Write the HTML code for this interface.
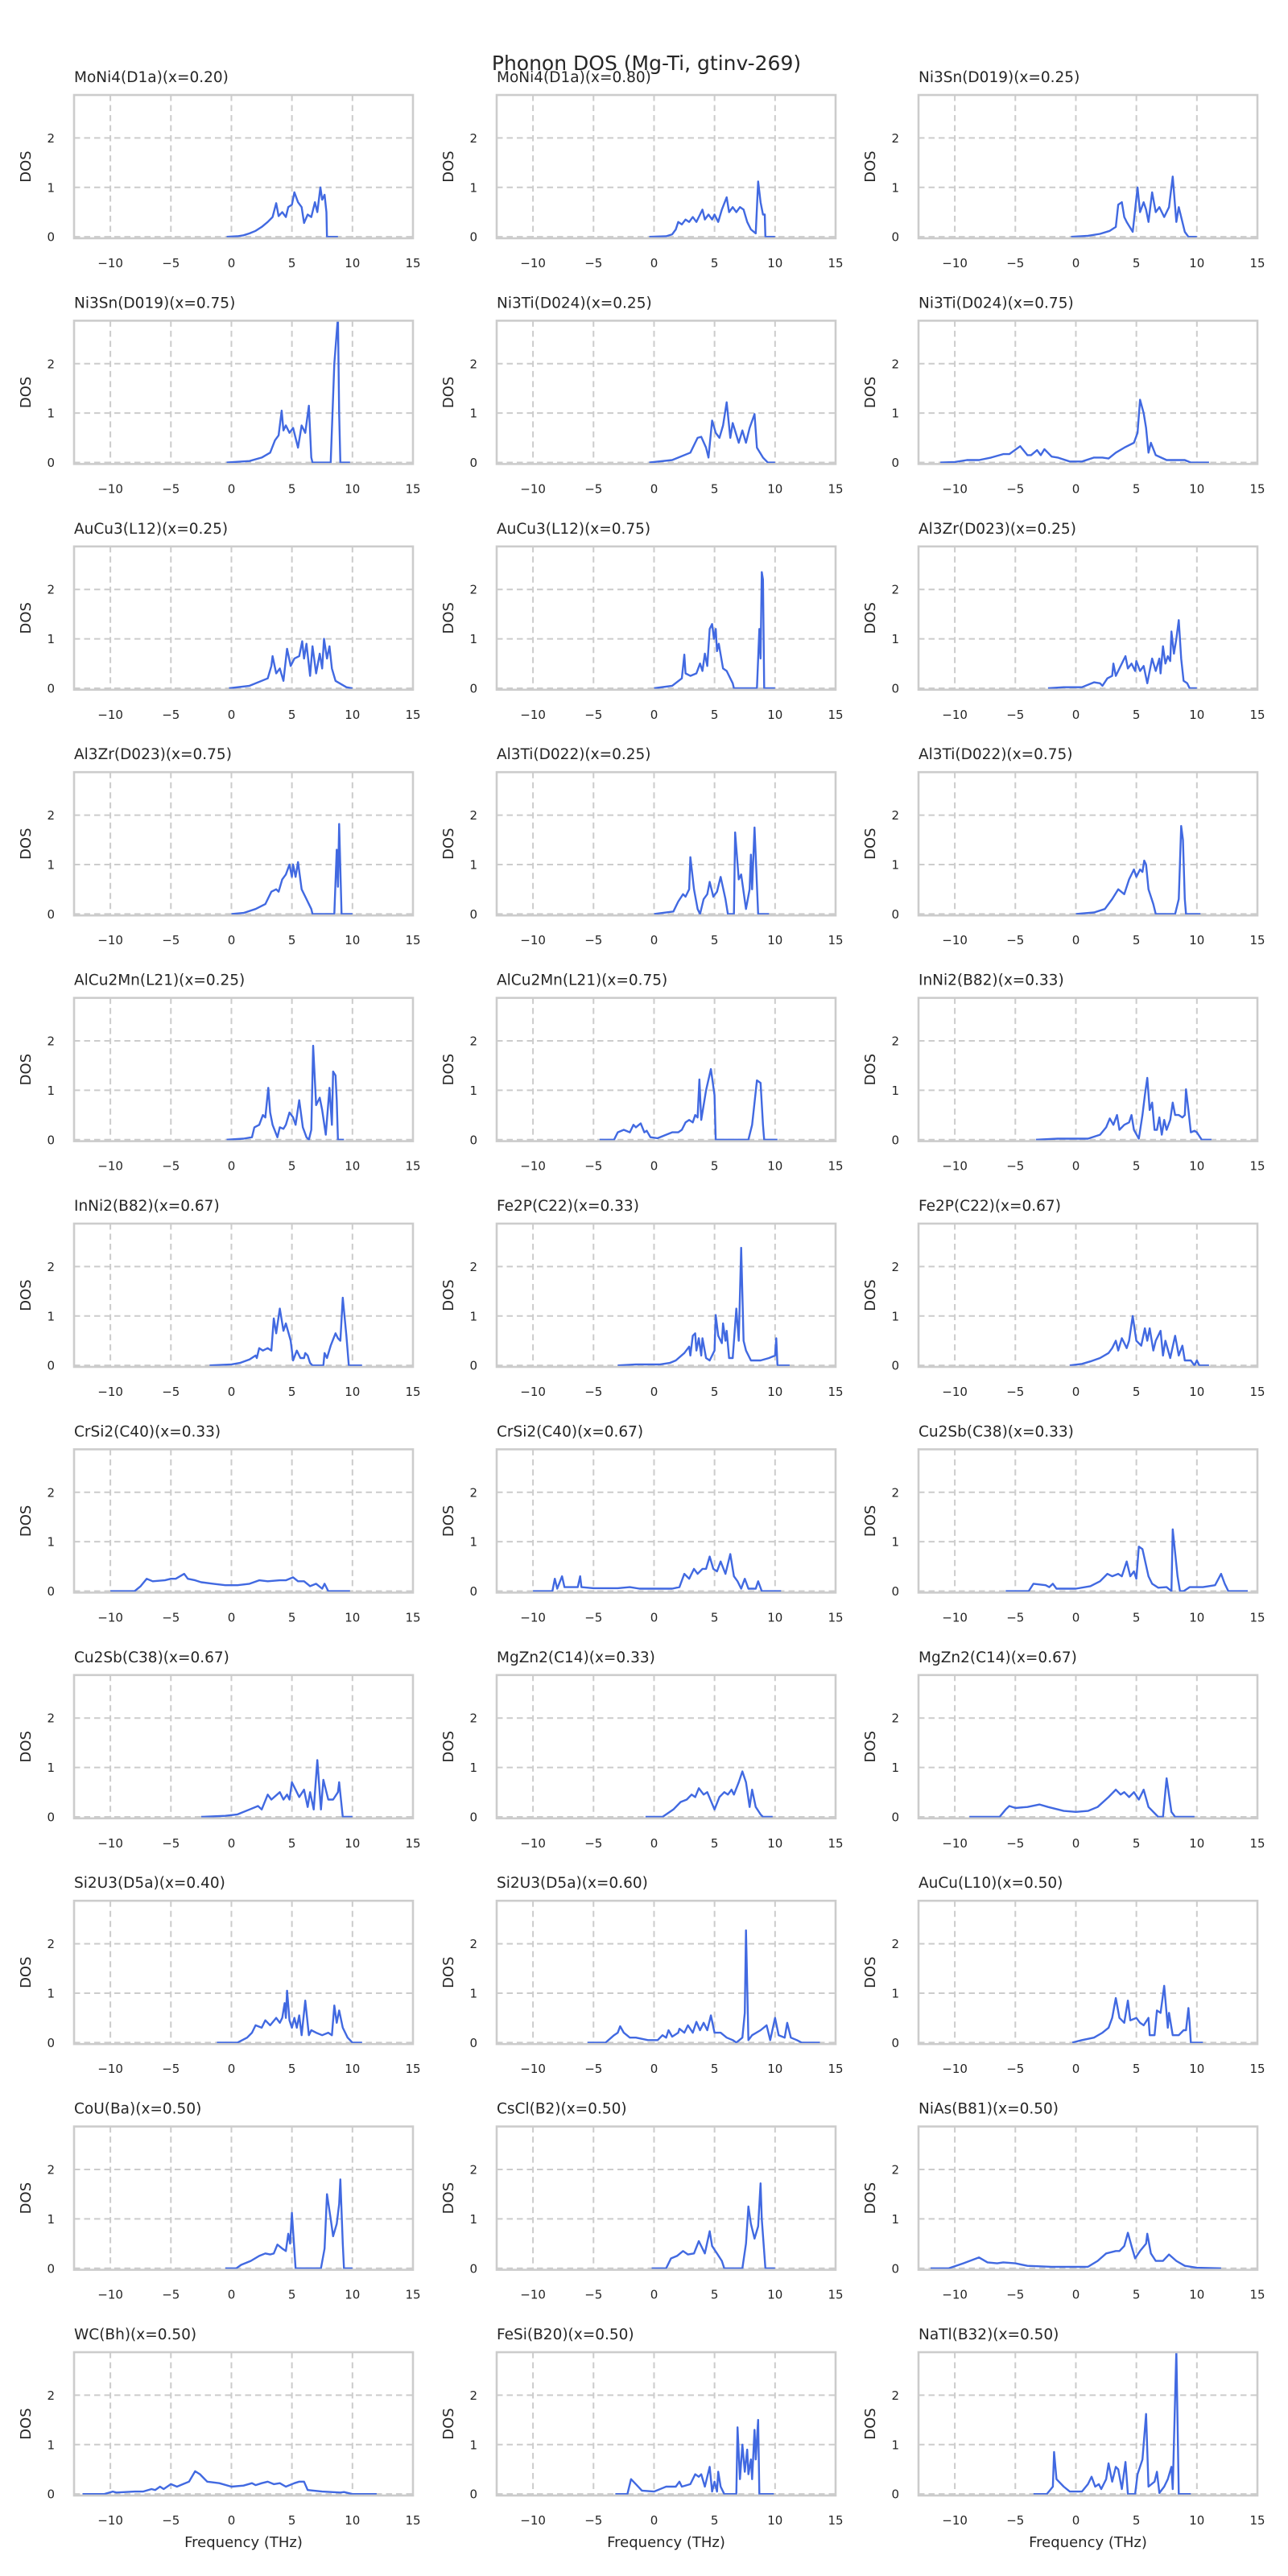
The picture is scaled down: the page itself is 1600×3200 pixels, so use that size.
<!DOCTYPE html>
<html><head><meta charset="utf-8"><style>
html,body{margin:0;padding:0;background:#fff;}
svg{display:block;font-family:"DejaVu Sans","Liberation Sans",sans-serif;}
</style></head><body>
<svg id="fig" width="1600" height="3200" viewBox="0 0 1600 3200" xmlns="http://www.w3.org/2000/svg">
<rect width="1600" height="3200" fill="#fff"/>
<text x="803" y="87" font-size="25" text-anchor="middle" fill="#262626">Phonon DOS (Mg-Ti, gtinv-269)</text>
</svg>
<script>
const panelTitles = ["MoNi4(D1a)(x=0.20)","MoNi4(D1a)(x=0.80)","Ni3Sn(D019)(x=0.25)","Ni3Sn(D019)(x=0.75)","Ni3Ti(D024)(x=0.25)","Ni3Ti(D024)(x=0.75)","AuCu3(L12)(x=0.25)","AuCu3(L12)(x=0.75)","Al3Zr(D023)(x=0.25)","Al3Zr(D023)(x=0.75)","Al3Ti(D022)(x=0.25)","Al3Ti(D022)(x=0.75)","AlCu2Mn(L21)(x=0.25)","AlCu2Mn(L21)(x=0.75)","InNi2(B82)(x=0.33)","InNi2(B82)(x=0.67)","Fe2P(C22)(x=0.33)","Fe2P(C22)(x=0.67)","CrSi2(C40)(x=0.33)","CrSi2(C40)(x=0.67)","Cu2Sb(C38)(x=0.33)","Cu2Sb(C38)(x=0.67)","MgZn2(C14)(x=0.33)","MgZn2(C14)(x=0.67)","Si2U3(D5a)(x=0.40)","Si2U3(D5a)(x=0.60)","AuCu(L10)(x=0.50)","CoU(Ba)(x=0.50)","CsCl(B2)(x=0.50)","NiAs(B81)(x=0.50)","WC(Bh)(x=0.50)","FeSi(B20)(x=0.50)","NaTl(B32)(x=0.50)"];
const xTicks = [-10,-5,0,5,10,15];
const xTickLabels = ["\u221210","\u22125","0","5","10","15"];
const yTicks = [0,1,2];
const yTickLabels = ["0","1","2"];
const xDomain = [-13,15];
const yDomain = [-0.03,2.87];

const dos0=[[-0.4,0],[0.5,0.01],[1,0.03],[1.5,0.07],[2,0.12],[2.5,0.2],[3,0.3],[3.4,0.4],[3.7,0.68],[3.9,0.42],[4.2,0.5],[4.5,0.4],[4.7,0.6],[5,0.65],[5.2,0.9],[5.5,0.7],[5.8,0.6],[6,0.28],[6.3,0.45],[6.6,0.4],[6.9,0.7],[7.1,0.5],[7.35,1.0],[7.5,0.75],[7.7,0.85],[7.85,0.5],[7.9,0],[8.8,0]];
const dos1=[[-0.4,0],[1,0.01],[1.5,0.05],[1.8,0.15],[2.0,0.3],[2.3,0.25],[2.6,0.35],[2.9,0.3],[3.2,0.4],[3.5,0.3],[3.8,0.45],[4.0,0.55],[4.2,0.35],[4.5,0.45],[4.8,0.35],[5.0,0.45],[5.3,0.3],[5.6,0.55],[6.0,0.8],[6.2,0.5],[6.5,0.6],[6.8,0.5],[7.1,0.6],[7.4,0.55],[7.7,0.3],[8.0,0.15],[8.4,0.07],[8.6,1.12],[8.8,0.7],[9.0,0.45],[9.15,0.45],[9.2,0],[10,0]];
const dos2=[[-0.4,0],[1,0.02],[2,0.06],[2.8,0.12],[3.3,0.2],[3.5,0.65],[3.8,0.7],[4.0,0.4],[4.2,0.3],[4.7,0.1],[5.1,1.0],[5.3,0.5],[5.6,0.7],[5.8,0.55],[6.0,0.3],[6.3,0.9],[6.6,0.5],[6.9,0.6],[7.3,0.4],[7.7,0.6],[8.0,1.22],[8.3,0.3],[8.5,0.6],[8.9,0.2],[9.0,0.1],[9.3,0],[10,0]];
const dos3=[[-0.4,0],[1.5,0.03],[2.5,0.1],[3.2,0.2],[3.6,0.45],[3.9,0.55],[4.15,1.05],[4.3,0.65],[4.5,0.75],[4.8,0.6],[5.1,0.7],[5.5,0.3],[5.8,0.75],[6.1,0.6],[6.4,1.15],[6.6,0.1],[6.7,0],[8.2,0],[8.5,2.0],[8.8,2.95],[8.9,1.0],[9.0,0],[9.8,0]];
const dos4=[[-0.4,0],[1.5,0.05],[3,0.2],[3.6,0.5],[3.9,0.52],[4.3,0.3],[4.5,0.1],[4.8,0.85],[5.1,0.6],[5.4,0.5],[5.7,0.75],[6.0,1.22],[6.3,0.5],[6.5,0.8],[7.0,0.4],[7.3,0.65],[7.6,0.4],[7.9,0.7],[8.3,0.98],[8.5,0.3],[9.0,0.1],[9.4,0],[10,0]];
const dos5=[[-11.2,0],[-10,0.01],[-9,0.05],[-8,0.05],[-7,0.1],[-6,0.17],[-5.5,0.17],[-4.6,0.33],[-4,0.15],[-3.7,0.15],[-3.2,0.25],[-2.9,0.15],[-2.6,0.27],[-2,0.12],[-1.5,0.1],[-0.5,0.02],[0.5,0.02],[1.5,0.1],[2.2,0.1],[2.7,0.08],[3.3,0.2],[4,0.3],[4.8,0.4],[5.1,0.6],[5.3,1.27],[5.6,1.0],[5.8,0.7],[6.0,0.2],[6.2,0.4],[6.6,0.15],[7.5,0.05],[9,0.05],[9.5,0],[11,0]];
const dos6=[[-0.2,0],[1.5,0.05],[3,0.2],[3.3,0.45],[3.4,0.65],[3.7,0.3],[4,0.4],[4.3,0.15],[4.6,0.8],[4.9,0.45],[5.2,0.6],[5.6,0.65],[5.85,0.95],[6.0,0.6],[6.2,0.9],[6.5,0.25],[6.7,0.85],[7.0,0.3],[7.3,0.7],[7.5,0.4],[7.65,1.0],[7.9,0.6],[8.1,0.85],[8.3,0.4],[8.6,0.15],[9.5,0.02],[10,0]];
const dos7=[[0,0],[1.5,0.05],[2.3,0.2],[2.5,0.68],[2.6,0.3],[3.0,0.25],[3.5,0.3],[3.8,0.5],[4.0,0.35],[4.2,0.7],[4.4,0.45],[4.6,1.2],[4.8,1.3],[4.95,1.0],[5.1,1.2],[5.2,0.75],[5.35,0.9],[5.7,0.4],[6.0,0.35],[6.5,0.1],[6.6,0],[8.5,0],[8.7,1.2],[8.8,0.6],[8.9,2.35],[9.0,2.2],[9.1,0],[10,0]];
const dos8=[[-2.3,0],[-1,0.02],[0.5,0.02],[1.5,0.12],[2.0,0.1],[2.2,0.05],[2.6,0.2],[3.0,0.25],[3.1,0.5],[3.3,0.25],[3.6,0.4],[3.9,0.55],[4.1,0.65],[4.3,0.4],[4.6,0.5],[4.9,0.35],[5.0,0.55],[5.3,0.35],[5.6,0.45],[5.9,0.1],[6.3,0.6],[6.6,0.35],[6.9,0.6],[7.0,0.3],[7.2,0.85],[7.4,0.5],[7.6,0.65],[7.8,0.55],[7.9,1.15],[8.1,0.7],[8.3,1.0],[8.5,1.38],[8.7,0.6],[8.9,0.15],[9.2,0.1],[9.4,0],[10,0]];
const dos9=[[0,0],[1,0.02],[2,0.1],[2.8,0.2],[3.3,0.45],[3.7,0.5],[3.9,0.45],[4.2,0.7],[4.5,0.8],[4.8,1.0],[5.0,0.75],[5.1,1.0],[5.3,0.75],[5.5,1.05],[5.8,0.5],[6.2,0.3],[6.6,0.1],[6.7,0],[8.5,0],[8.7,1.3],[8.8,0.55],[8.9,1.82],[9.1,0],[10,0]];
const dos10=[[0,0],[1.6,0.05],[2,0.25],[2.4,0.4],[2.6,0.35],[2.9,0.5],[3.0,1.15],[3.3,0.5],[3.6,0.1],[3.8,0],[4.1,0.3],[4.4,0.4],[4.6,0.65],[4.9,0.35],[5.2,0.45],[5.5,0.75],[5.9,0.3],[6.1,0],[6.6,0],[6.7,1.65],[7.0,0.7],[7.2,0.8],[7.6,0.1],[7.9,0.5],[8.0,1.2],[8.1,0.5],[8.3,1.75],[8.6,0],[9.5,0]];
const dos11=[[0,0],[1.5,0.03],[2.4,0.1],[3.0,0.3],[3.5,0.5],[4.0,0.4],[4.4,0.7],[4.8,0.9],[5.0,0.75],[5.3,0.9],[5.5,0.85],[5.65,1.08],[5.8,1.0],[6.0,0.5],[6.4,0.2],[6.6,0],[8.2,0],[8.5,0.3],[8.7,1.78],[8.85,1.5],[9.0,0.3],[9.1,0],[10.3,0]];
const dos12=[[-0.4,0],[1,0.02],[1.7,0.05],[1.9,0.25],[2.3,0.3],[2.6,0.5],[2.8,0.45],[3.05,1.05],[3.2,0.55],[3.4,0.3],[3.8,0.05],[4.0,0.25],[4.3,0.22],[4.5,0.3],[4.8,0.55],[5.1,0.45],[5.3,0.3],[5.6,0.8],[5.9,0.25],[6.2,0.05],[6.4,0],[6.6,0.2],[6.75,1.9],[7.0,0.7],[7.3,0.85],[7.5,0.6],[7.8,0.1],[8.1,1.05],[8.3,0.3],[8.4,1.38],[8.6,1.3],[8.7,0.8],[8.8,0],[9.3,0]];
const dos13=[[-4.5,0],[-3.3,0],[-3.0,0.15],[-2.5,0.2],[-2,0.15],[-1.7,0.3],[-1.5,0.25],[-1.1,0.33],[-0.8,0.15],[-0.6,0.18],[-0.3,0.05],[0.3,0.03],[1.0,0.1],[1.5,0.15],[2.0,0.15],[2.3,0.2],[2.6,0.35],[2.9,0.4],[3.2,0.35],[3.4,0.5],[3.6,0.45],[3.75,1.22],[3.9,0.4],[4.3,1.0],[4.7,1.43],[5.0,0.9],[5.1,0],[7.8,0],[8.1,0.3],[8.5,1.2],[8.8,1.15],[9.0,0.3],[9.1,0],[10.2,0]];
const dos14=[[-3.3,0],[-1.5,0.02],[1,0.02],[2,0.1],[2.5,0.25],[2.8,0.43],[3.1,0.3],[3.4,0.5],[3.6,0.2],[4.0,0.3],[4.4,0.35],[4.6,0.5],[4.8,0.2],[5.2,0.02],[5.5,0.5],[5.7,0.9],[5.9,1.25],[6.1,0.6],[6.3,0.75],[6.5,0.2],[6.7,0.2],[6.9,0.45],[7.1,0.1],[7.3,0.4],[7.5,0.2],[7.8,0.4],[8.0,0.75],[8.2,0.5],[8.5,0.5],[8.8,0.45],[9.0,0.5],[9.1,1.02],[9.3,0.6],[9.5,0.15],[9.8,0.18],[10.0,0.15],[10.4,0],[11.2,0]];
const dos15=[[-1.8,0],[0,0.02],[0.7,0.05],[1.5,0.12],[2,0.2],[2.1,0.15],[2.3,0.35],[2.6,0.3],[3.0,0.35],[3.3,0.3],[3.5,0.95],[3.7,0.65],[4.0,1.15],[4.3,0.7],[4.5,0.85],[4.9,0.5],[5.1,0.1],[5.4,0.3],[5.7,0.15],[6.0,0.15],[6.1,0.25],[6.3,0.2],[6.5,0.05],[6.7,0],[7.6,0],[7.7,0.25],[7.9,0.15],[8.2,0.4],[8.6,0.65],[8.8,0.55],[9.0,0.5],[9.2,1.37],[9.5,0.6],[9.7,0],[10.8,0]];
const dos16=[[-3,0],[-1.5,0.02],[0.5,0.02],[1.3,0.05],[1.8,0.1],[2.5,0.25],[2.9,0.38],[3.0,0.2],[3.2,0.6],[3.4,0.65],[3.5,0.3],[3.7,0.55],[3.9,0.2],[4.0,0.55],[4.3,0.15],[4.6,0.1],[5.0,0.3],[5.1,1.02],[5.3,0.6],[5.6,0.45],[5.7,0.85],[5.9,0.5],[6.0,0.7],[6.2,0.15],[6.5,0.15],[6.8,1.15],[7.0,0.5],[7.2,2.38],[7.4,0.5],[7.6,0.3],[8.0,0.1],[8.8,0.1],[9.5,0.15],[10.0,0.2],[10.1,0.55],[10.2,0],[11.2,0]];
const dos17=[[-0.5,0],[0.5,0.03],[1.2,0.08],[2,0.15],[2.7,0.25],[3.0,0.35],[3.3,0.5],[3.5,0.3],[3.8,0.55],[4.2,0.35],[4.4,0.5],[4.7,1.0],[5.0,0.5],[5.4,0.4],[5.7,0.75],[5.9,0.5],[6.1,0.75],[6.4,0.3],[6.6,0.5],[7.0,0.7],[7.2,0.2],[7.4,0.5],[7.8,0.15],[8.2,0.6],[8.5,0.2],[8.8,0.4],[9.0,0.1],[9.5,0.1],[9.8,0],[10.0,0.1],[10.2,0],[11,0]];
const dos18=[[-10,0],[-8,0],[-7.5,0.1],[-7,0.25],[-6.5,0.2],[-5.5,0.22],[-5,0.25],[-4.6,0.25],[-3.9,0.35],[-3.6,0.25],[-3,0.22],[-2.5,0.18],[-1.5,0.15],[-0.5,0.12],[0.5,0.12],[1.5,0.15],[2.3,0.22],[3.0,0.2],[4.0,0.22],[4.5,0.22],[5.1,0.28],[5.5,0.2],[6.0,0.2],[6.5,0.1],[7.0,0.15],[7.5,0.05],[7.7,0.15],[8.0,0],[9.8,0]];
const dos19=[[-10,0],[-8.4,0],[-8.2,0.25],[-8,0.05],[-7.6,0.3],[-7.4,0.08],[-6.3,0.08],[-6.1,0.3],[-6.0,0.08],[-5,0.06],[-3,0.06],[-2.0,0.08],[-1.2,0.05],[0,0.05],[1.5,0.05],[2.1,0.08],[2.5,0.35],[2.9,0.25],[3.3,0.45],[3.6,0.35],[4.0,0.45],[4.3,0.45],[4.6,0.7],[4.9,0.45],[5.2,0.4],[5.5,0.6],[5.9,0.35],[6.3,0.75],[6.6,0.3],[6.9,0.2],[7.2,0.05],[7.5,0.25],[7.8,0.05],[8.4,0.05],[8.6,0.2],[8.9,0],[10.5,0]];
const dos20=[[-5.8,0],[-3.9,0],[-3.5,0.15],[-2.5,0.12],[-2.2,0.08],[-1.9,0.15],[-1.6,0.05],[0,0.05],[1.2,0.1],[2.0,0.2],[2.6,0.35],[3.0,0.3],[3.5,0.35],[3.8,0.3],[4.2,0.6],[4.5,0.3],[4.8,0.4],[5.0,0.25],[5.2,0.9],[5.5,0.85],[6.0,0.3],[6.3,0.15],[6.8,0.07],[7.5,0.08],[7.9,0],[8.0,1.25],[8.4,0.3],[8.6,0],[8.9,0],[9.4,0.08],[10.5,0.08],[11.5,0.12],[12.0,0.35],[12.3,0.15],[12.6,0],[14.2,0]];
const dos21=[[-2.5,0],[-0.5,0.02],[0.5,0.05],[1.5,0.15],[2.2,0.22],[2.5,0.15],[3.0,0.45],[3.3,0.35],[4.0,0.5],[4.3,0.35],[4.6,0.45],[4.8,0.35],[5.0,0.7],[5.3,0.55],[5.6,0.4],[6.0,0.55],[6.3,0.2],[6.5,0.5],[6.8,0.15],[7.1,1.15],[7.4,0.15],[7.6,0.75],[8.0,0.35],[8.4,0.35],[8.8,0.5],[8.9,0.7],[9.2,0],[10,0]];
const dos22=[[-0.7,0],[0.7,0],[1.6,0.15],[2.2,0.3],[2.7,0.35],[3.1,0.45],[3.4,0.4],[3.7,0.58],[4.1,0.45],[4.4,0.5],[5.0,0.15],[5.4,0.4],[5.8,0.5],[6.1,0.45],[6.4,0.55],[6.6,0.45],[7.0,0.7],[7.3,0.92],[7.6,0.7],[7.9,0.2],[8.1,0.55],[8.4,0.2],[8.8,0.05],[9.0,0],[9.8,0]];
const dos23=[[-8.8,0],[-6.3,0],[-5.8,0.15],[-5.5,0.22],[-5.0,0.18],[-4.0,0.2],[-3.0,0.25],[-2.3,0.2],[-1.0,0.12],[0,0.1],[1.0,0.12],[1.8,0.2],[2.7,0.4],[3.3,0.55],[3.7,0.45],[4.0,0.5],[4.4,0.4],[4.8,0.5],[5.2,0.35],[5.6,0.55],[6.0,0.2],[6.6,0.05],[6.8,0],[7.2,0],[7.5,0.78],[7.9,0.1],[8.2,0],[9.8,0]];
const dos24=[[-1.2,0],[0.5,0],[1.3,0.1],[1.7,0.2],[2.0,0.35],[2.5,0.3],[2.8,0.45],[3.2,0.35],[3.7,0.5],[4.0,0.4],[4.2,0.5],[4.4,0.8],[4.5,0.5],[4.6,1.05],[4.8,0.45],[5.0,0.3],[5.2,0.5],[5.4,0.3],[5.6,0.55],[5.8,0.15],[6.1,0.85],[6.4,0.15],[6.6,0.25],[7.0,0.2],[7.5,0.15],[8.0,0.2],[8.3,0.15],[8.5,0.75],[8.7,0.4],[8.9,0.65],[9.2,0.3],[9.6,0.1],[10.0,0],[10.8,0]];
const dos25=[[-5.5,0],[-4,0],[-3.3,0.15],[-3,0.2],[-2.8,0.33],[-2.5,0.2],[-2.0,0.1],[-1.5,0.1],[-0.5,0.05],[0.3,0.05],[0.7,0.15],[1.0,0.1],[1.2,0.25],[1.5,0.12],[2.0,0.2],[2.1,0.28],[2.5,0.2],[2.8,0.35],[3.2,0.2],[3.5,0.42],[3.8,0.25],[4.1,0.4],[4.4,0.25],[4.7,0.55],[5.0,0.2],[5.5,0.2],[6.0,0.1],[6.5,0.05],[6.8,0],[7.3,0.1],[7.5,0.6],[7.6,2.27],[7.8,0.05],[8.1,0.15],[8.8,0.25],[9.3,0.35],[9.6,0.05],[10.0,0.5],[10.3,0.15],[10.8,0.1],[11.0,0.4],[11.3,0.1],[11.8,0.05],[12.2,0],[13.7,0]];
const dos26=[[-0.3,0],[0.5,0.05],[1.5,0.1],[2.2,0.2],[2.7,0.3],[3.0,0.5],[3.3,0.9],[3.6,0.5],[4.0,0.4],[4.3,0.85],[4.5,0.45],[5.0,0.5],[5.3,0.4],[5.6,0.35],[6.0,0.5],[6.1,0.15],[6.5,0.15],[6.7,0.65],[7.0,0.6],[7.3,1.15],[7.6,0.3],[7.7,0.6],[8.0,0.15],[8.5,0.15],[8.9,0.25],[9.1,0.25],[9.3,0.7],[9.4,0.4],[9.5,0],[10.5,0]];
const dos27=[[-0.5,0],[0.4,0],[0.8,0.07],[1.6,0.15],[2.3,0.25],[2.8,0.3],[3.2,0.28],[3.5,0.3],[3.8,0.48],[4.2,0.4],[4.5,0.35],[4.7,0.7],[4.85,0.5],[5.0,1.12],[5.3,0],[7.4,0],[7.7,0.4],[7.9,1.5],[8.2,1.0],[8.4,0.65],[8.7,0.9],[8.9,1.3],[9.0,1.8],[9.2,0.5],[9.3,0],[10,0]];
const dos28=[[-0.2,0],[1.0,0],[1.4,0.2],[1.9,0.25],[2.4,0.35],[2.8,0.28],[3.3,0.3],[3.7,0.55],[4.2,0.3],[4.6,0.75],[4.8,0.45],[5.2,0.3],[5.6,0.15],[5.8,0],[7.3,0],[7.6,0.5],[7.8,1.25],[8.0,0.9],[8.3,0.6],[8.6,0.85],[8.8,1.72],[8.9,1.0],[9.2,0],[10,0]];
const dos29=[[-12,0],[-10.5,0],[-9.3,0.1],[-8,0.22],[-7.3,0.12],[-6.5,0.1],[-6,0.12],[-5,0.1],[-4,0.05],[-2,0.03],[1.0,0.03],[1.8,0.15],[2.5,0.3],[3.3,0.35],[3.6,0.35],[4.0,0.45],[4.3,0.72],[4.6,0.45],[4.9,0.2],[5.3,0.35],[5.8,0.5],[5.9,0.7],[6.2,0.3],[6.6,0.15],[7.2,0.15],[7.7,0.28],[8.3,0.15],[9.0,0.05],[10.0,0.01],[12.0,0]];
const dos30=[[-12.3,0],[-10.5,0],[-9.8,0.05],[-9.5,0.03],[-8,0.05],[-7.3,0.05],[-6.6,0.1],[-6.3,0.08],[-5.9,0.15],[-5.6,0.1],[-5,0.2],[-4.5,0.15],[-4,0.2],[-3.5,0.25],[-3.0,0.46],[-2.6,0.4],[-2.0,0.25],[-1.0,0.22],[0,0.15],[1.0,0.17],[1.7,0.22],[2.0,0.18],[2.5,0.22],[3.0,0.25],[3.5,0.2],[4.0,0.22],[4.5,0.15],[5.2,0.22],[5.6,0.25],[6.0,0.25],[6.3,0.08],[7.5,0.05],[9.0,0.03],[9.3,0.04],[10.0,0],[12.0,0]];
const dos31=[[-3.2,0],[-2.2,0],[-1.9,0.3],[-1.5,0.2],[-1.0,0.07],[0,0.05],[0.7,0.12],[1.0,0.15],[1.8,0.15],[2.1,0.25],[2.3,0.15],[3.0,0.2],[3.4,0.4],[3.7,0.35],[3.9,0.4],[4.2,0.15],[4.6,0.55],[4.8,0.05],[5.0,0.25],[5.2,0.05],[5.3,0.45],[5.5,0.15],[5.8,0],[6.8,0],[6.9,1.35],[7.1,0.3],[7.3,1.0],[7.5,0.45],[7.7,0.9],[7.8,0.4],[8.0,0.7],[8.1,0.3],[8.3,1.3],[8.4,0.7],[8.6,1.5],[8.7,0],[9.9,0]];
const dos32=[[-3.5,0],[-2.4,0],[-1.9,0.15],[-1.8,0.85],[-1.6,0.3],[-1.0,0.15],[-0.5,0.05],[0.5,0.05],[1.0,0.2],[1.3,0.35],[1.6,0.15],[1.9,0.2],[2.1,0.1],[2.5,0.3],[2.7,0.62],[3.0,0.25],[3.3,0.55],[3.5,0.5],[3.8,0.1],[4.1,0.65],[4.3,0],[4.9,0],[5.1,0.4],[5.5,0.7],[5.8,1.62],[6.0,0.15],[6.5,0.25],[6.7,0.45],[6.9,0.02],[7.3,0.15],[7.6,0.3],[7.9,0.55],[8.0,0.1],[8.3,2.9],[8.5,0],[9.5,0]];
const seriesList=[dos0,dos1,dos2,dos3,dos4,dos5,dos6,dos7,dos8,dos9,dos10,dos11,dos12,dos13,dos14,dos15,dos16,dos17,dos18,dos19,dos20,dos21,dos22,dos23,dos24,dos25,dos26,dos27,dos28,dos29,dos30,dos31,dos32];

const NS="http://www.w3.org/2000/svg";
const svg=document.getElementById('fig');
const colLeft=[92,617,1141], axW=421, axH=178, rowTop0=118, rowPitch=280.4;
function mk(tag,attrs,parent){const e=document.createElementNS(NS,tag);for(const k in attrs)e.setAttribute(k,attrs[k]);(parent||svg).appendChild(e);return e;}
const defs=mk('defs',{});
panelTitles.forEach((title,i)=>{
  const r=Math.floor(i/3), c=i%3;
  const L=colLeft[c], T=rowTop0+r*rowPitch;
  const sx=v=>L+(v-xDomain[0])/(xDomain[1]-xDomain[0])*axW;
  const sy=v=>T+axH-(v-yDomain[0])/(yDomain[1]-yDomain[0])*axH;
  const g=mk('g',{});
  
  
  const cp=mk('clipPath',{id:'cp'+i},defs);
  mk('rect',{x:L,y:T,width:axW,height:axH},cp);
  const t=mk('text',{x:L,y:T-16,'font-size':18.5,fill:'#262626'},g);
  t.textContent=title;
  
  
  xTicks.forEach((v,k)=>{
    if(v>xDomain[0]&&v<xDomain[1]){
      const gl=mk('line',{x1:sx(v),x2:sx(v),y1:T,y2:T+axH,stroke:'#cccccc','stroke-width':2,'stroke-dasharray':'7.5,5'},g);
      
      
    }
    const tl=mk('text',{x:sx(v),y:T+axH+36,'font-size':15,'text-anchor':'middle',fill:'#262626'},g);
    tl.textContent=xTickLabels[k];
    
    
  });
  yTicks.forEach((v,k)=>{
    const gl=mk('line',{x1:L,x2:L+axW,y1:sy(v),y2:sy(v),stroke:'#cccccc','stroke-width':2,'stroke-dasharray':'7.5,5'},g);
    
    
    const tl=mk('text',{x:L-24,y:sy(v)+5.5,'font-size':15,'text-anchor':'end',fill:'#262626'},g);
    tl.textContent=yTickLabels[k];
    
    
  });
  const yl=mk('text',{x:0,y:0,'font-size':18,'text-anchor':'middle',fill:'#262626',transform:`translate(${L-54},${T+axH/2}) rotate(-90)`},g);
  yl.textContent='DOS';
  
  
  const d=seriesList[i].map((p,k)=>(k?'L':'M')+sx(p[0]).toFixed(1)+','+sy(p[1]).toFixed(1)).join('');
  const ln=mk('path',{d:d,fill:'none',stroke:'#4169e1','stroke-width':2.4,'stroke-linejoin':'round','clip-path':`url(#cp${i})`},g);
  
  
  const sp=mk('rect',{x:L,y:T,width:axW,height:axH,fill:'none',stroke:'#cccccc','stroke-width':2.6},g);
  
  
  if(r===10){
    const xl=mk('text',{x:L+axW/2,y:T+axH+64,'font-size':18,'text-anchor':'middle',fill:'#262626'},g);
    xl.textContent='Frequency (THz)';
    
    
  }
});
</script>
</body></html>
